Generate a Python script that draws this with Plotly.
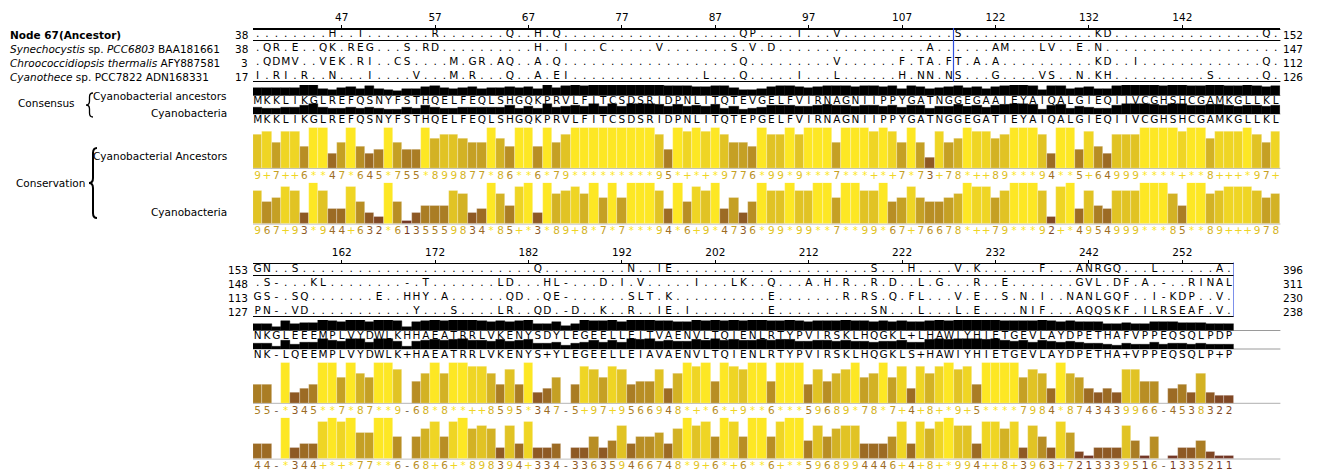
import plotly.graph_objects as go

# ---------------- data ----------------
SEQ_LABELS = ["<b>Node 67(Ancestor)</b>",
              "<i>Synechocystis</i> sp. <i>PCC6803</i> BAA181661",
              "<i>Chroococcidiopsis thermalis</i> AFY887581",
              "<i>Cyanothece</i> sp. PCC7822 ADN168331"]

B1_START = [38, 38, 3, 17]
B1_END = [152, 147, 112, 126]
B2_START = [153, 148, 113, 127]
B2_END = [396, 311, 230, 238]

B1_RULER_TEXT = ["47", "57", "67", "77", "87", "97", "107", "122", "132", "142"]
B1_RULER_COL = [9, 19, 29, 39, 49, 59, 69, 79, 89, 99]
B2_RULER_TEXT = ["162", "172", "182", "192", "202", "212", "222", "232", "242", "252"]
B2_RULER_COL = [9, 19, 29, 39, 49, 59, 69, 79, 89, 99]

# sequences, written in groups of ten columns
B1_SEQS = [
    "........H. .T.......R .......Q.. H.Q....... .......... ..QP....I. ..V....... .....S.... .......... KD........ ........Q.",
    ".QR.E..QK. REG...S.RD .......... H..I...C.. ...V...... .S.V.D.... .......... ..A......A M...LV..E. N......... ..........",
    ".QDMV..VEK .RI..CS... .M.GR.AQ.. A.Q....... .......... ..Q....... ..V......F .TA.FT.A.A .......... KD..I..... ........Q.",
    "I.RI.R..N. ..I....V.. .M.R...Q.. A.EI...... ........L. ..Q.....I. ..L......H .NN.NS...G ....VS..N. KH........ ..S.....Q.",
]
B2_SEQS = [
    "GN..S..... .......... .......... Q......... N..IE..... .......... ......S... H....V.K.. ....F...AN RGQ...L... ...A.",
    ".S-...KL.. ......-.T. ......LD.. .HL-...D.I .V.....I.. .LK..Q...A .H.R..R.D. .L.G...R.. E.......GV L.DF.A.-.. RINAL",
    "GS-.SQ.... ...E..HHY. A......QD. .QE-...... SLT.K..... .....E.... ...R.RS.Q. FL...V.E.. S.N.I..NAN LGQF..I-KD P..V.",
    "PN-.VD.... .......Y.. .S....LR.. QD.-D..K.. R..IE.I... .....E.... ......SN.. .L...L.E.. ..NIF...AQ QSKF.ILRSE AF.V.",
]

B1_CONS_ANC = "MKKLIKGLREFQSNYFSTHQELFEQLSHGQKPRVLFITCSDSRIDPNLITQTEVGELFVIRNAGNIIPPYGATNGGEGAAIEYAIQALGIEQIIVCGHSHCGAMKGLLKL"
B1_CONS_CYA = "MKKLIKGLREFQSNYFSTHQELFEQLSHGQKPRVLFITCSDSRIDPNLITQTEPGELFVIRNAGNIIPPYGATNGGEGATIEYAIQALGIEQIIVCGHSHCGAMKGLLKL"
B2_CONS_ANC = "NKGLEEEMPLVYDWLKHHAEATRRLVKENYSDYLEGEELLEITVAENVLTQIENLRTYPVIRSKLHQGKL+LHAWIYHIETGEVLAYDPETHAFVPPEQSQLPDP"
B2_CONS_CYA = "NK-LQEEMPLVYDWLK+HAEATRRLVKENYS+YLEGEELLEIAVAENVLTQIENLRTYPVIRSKLHQGKLS+HAWIYHIETGEVLAYDPETHA+VPPEQSQLP+P"

# consensus histogram (% identity), estimated
B1_HIST_ANC = [70, 70, 70, 70, 70, 100, 100, 60, 50, 70, 80, 60, 90, 60, 50, 40, 60, 60, 80, 90,
               70, 60, 70, 80, 60, 70, 70, 80, 70, 80, 60, 100, 70, 90, 100, 90, 100, 100, 100, 100,
               100, 100, 100, 100, 90, 90, 90, 80, 80, 90, 90, 70, 50, 50, 60, 80, 90, 90, 80, 70,
               80, 90, 90, 90, 80, 90, 90, 80, 90, 60, 90, 80, 60, 70, 80, 90, 70, 80, 60, 80,
               90, 100, 100, 90, 50, 90, 90, 60, 70, 80, 60, 60, 90, 100, 100, 100, 100, 90, 100, 100,
               90, 90, 100, 100, 90, 90, 100, 90, 80, 90]
B1_HIST_CYA = [60, 50, 55, 60, 60, 80, 100, 60, 50, 50, 60, 50, 60, 50, 40, 40, 60, 50, 80, 60,
               50, 50, 60, 60, 60, 60, 60, 80, 50, 70, 50, 100, 60, 70, 80, 70, 100, 70, 100, 70,
               100, 100, 100, 90, 70, 90, 70, 80, 70, 90, 50, 70, 40, 50, 60, 80, 80, 80, 70, 70,
               80, 90, 80, 80, 70, 80, 80, 70, 80, 60, 80, 80, 50, 70, 70, 90, 70, 80, 60, 80,
               90, 100, 100, 90, 40, 80, 90, 50, 70, 60, 50, 50, 80, 100, 100, 100, 90, 80, 100, 100,
               80, 80, 90, 90, 80, 70, 80, 80, 70, 80]
B2_HIST_ANC = [60, 60, 30, 90, 60, 70, 70, 100, 90, 80, 100, 100, 80, 100, 100, 90, 30, 80, 90, 100,
               90, 100, 100, 100, 90, 80, 90, 80, 90, 100, 60, 60, 80, 40, 60, 100, 90, 90, 100, 80,
               100, 100, 100, 90, 90, 80, 80, 100, 90, 100, 90, 100, 90, 100, 100, 90, 90, 100, 90, 80,
               90, 90, 90, 100, 90, 90, 80, 90, 80, 90, 80, 80, 90, 100, 90, 100, 100, 100, 100, 100,
               90, 90, 90, 90, 100, 90, 80, 90, 80, 80, 80, 60, 60, 70, 60, 60, 80, 80, 80, 70,
               70, 70, 60, 60, 60]
B2_HIST_CYA = [50, 50, 20, 80, 40, 60, 60, 100, 80, 70, 100, 100, 60, 100, 100, 70, 20, 70, 80, 90,
               80, 90, 100, 80, 80, 70, 90, 70, 80, 90, 50, 50, 60, 30, 50, 60, 80, 60, 80, 60,
               100, 90, 100, 70, 80, 70, 70, 90, 80, 100, 80, 90, 80, 80, 90, 80, 90, 90, 70, 70,
               80, 80, 70, 80, 70, 70, 60, 70, 70, 80, 60, 60, 90, 100, 90, 100, 100, 100, 90, 100,
               80, 70, 80, 60, 80, 70, 60, 70, 60, 50, 50, 40, 30, 50, 40, 40, 60, 40, 50, 50,
               40, 50, 40, 40, 40]

# conservation scores (Jalview AMAS): digits 0-9, '+' = 10, '*' = 11, '-' = gap
B1_CONSV_ANC = "9+7++6**47*645*755*899877*86**6*79*********95*+*+*9776*99*9***7***+*+7*73+78*++89***94**5+64999****+**8+++*97+"
B1_CONSV_CYA = "967+93*944+632*613555983 4*85+*3*89+8*7*7***94*6+9*4736*99*99**7**99*67+7667 8*++79***92+*4954999***85**89+++978"
B2_CONSV_ANC = "55-*345**7*87**9-68*8**++8595*347-5+97+9566948*+*6*+9**6***59689*78*7+4+8+*9+5****7984*8743439966-4538322"
B2_CONSV_CYA = "44-*344+*+*77**6-68+6+*898394+334-336359466748*9+6*+6**6+**596899444 6+4+8+*994++8+3963+7213339516-1335211"

# ---------------- geometry (pixels) ----------------
W, H = 1317, 471
X0, CW = 253.0, 9.34
DY2 = 235.0
FONT = "DejaVu Sans"
FS = 10.5


def fx(px):
    return px / W


def fy(py):
    return 1 - py / H


def clean(s):
    return s.replace(" ", "")


def score(ch):
    if ch == "*":
        return 11
    if ch == "+":
        return 10
    if ch == "-":
        return 0
    return int(ch)


def cons_color(ch):
    if ch == "-":
        return "rgb(110,90,70)"
    v = score(ch) / 11.0
    r = 0.3 + 0.7 * v
    g = 0.9 * v
    b = 0.0
    r, g, b = [c * 0.85 + 0.15 * 0.95 for c in (r, g, b)]
    return "rgb(%d,%d,%d)" % (r * 255, g * 255, b * 255)


fig = go.Figure()

blocks = [
    dict(ax="x", n=110, dy=0.0, seqs=B1_SEQS, ca=B1_CONS_ANC, cc=B1_CONS_CYA,
         ha=B1_HIST_ANC, hc=B1_HIST_CYA, sa=B1_CONSV_ANC, sc=B1_CONSV_CYA,
         start=B1_START, end=B1_END, rt=B1_RULER_TEXT, rc=B1_RULER_COL, yax=(3, 4, 5, 6)),
    dict(ax="x2", n=105, dy=DY2, seqs=B2_SEQS, ca=B2_CONS_ANC, cc=B2_CONS_CYA,
         ha=B2_HIST_ANC, hc=B2_HIST_CYA, sa=B2_CONSV_ANC, sc=B2_CONSV_CYA,
         start=B2_START, end=B2_END, rt=B2_RULER_TEXT, rc=B2_RULER_COL, yax=(7, 8, 9, 10)),
]

ROW_Y = [34.5, 48.5, 62.5, 76.5]
shapes = []
annotations = []
layout_axes = {}

for bi, b in enumerate(blocks):
    n, dy, ax = b["n"], b["dy"], b["ax"]
    xs = [c + 0.5 for c in range(n)]
    right_px = X0 + n * CW

    # x axis for this block = ruler line + tick marks
    axname = "xaxis" if ax == "x" else "xaxis2"
    layout_axes[axname] = dict(
        domain=[fx(X0), fx(right_px)], range=[0, n], anchor="free",
        position=fy(27.5 + dy), side="top", showline=True, linecolor="black",
        linewidth=1, ticks="outside", ticklen=3, tickcolor="black", tickwidth=1,
        tickvals=[c + 0.5 for c in b["rc"]], showticklabels=False,
        showgrid=False, zeroline=False, fixedrange=True)
    fig.add_trace(go.Scatter(x=[c + 0.5 for c in b["rc"]], y=[18.0 + dy] * len(b["rc"]),
                             xaxis=ax, yaxis="y", mode="text", text=b["rt"],
                             textfont=dict(family=FONT, size=FS, color="black"),
                             hoverinfo="skip", showlegend=False, cliponaxis=False))

    # sequence rows
    for ri, s in enumerate(b["seqs"]):
        s = clean(s)
        assert len(s) == n, (bi, ri, len(s))
        fig.add_trace(go.Scatter(x=xs, y=[ROW_Y[ri] + dy] * n, xaxis=ax, yaxis="y",
                                 mode="text", text=list(s),
                                 textfont=dict(family=FONT, size=FS, color="black"),
                                 hoverinfo="skip", showlegend=False, cliponaxis=False))
        annotations.append(dict(x=fx(X0 - 3), y=ROW_Y[ri] + dy, xref="paper", yref="y",
                                text=str(b["start"][ri]), showarrow=False, xanchor="right",
                                yanchor="middle", font=dict(family=FONT, size=FS, color="black")))
        annotations.append(dict(x=fx(X0 + 110 * CW + 1), y=ROW_Y[ri] + dy, xref="paper", yref="y",
                                text=str(b["end"][ri]), showarrow=False, xanchor="left",
                                yanchor="middle", font=dict(family=FONT, size=FS, color="black")))

    # consensus letters
    for txt, yy in ((b["ca"], 101.0), (b["cc"], 120.0)):
        assert len(txt) == n
        fig.add_trace(go.Scatter(x=xs, y=[yy + dy] * n, xaxis=ax, yaxis="y",
                                 mode="text", text=list(txt),
                                 textfont=dict(family=FONT, size=FS, color="black"),
                                 hoverinfo="skip", showlegend=False, cliponaxis=False))

    ya_h1, ya_h2, ya_c1, ya_c2 = b["yax"]
    # consensus histograms
    for vals, ya, top, bot in ((b["ha"], ya_h1, 85.0, 95.5), (b["hc"], ya_h2, 103.5, 114.0)):
        assert len(vals) == n
        layout_axes["yaxis%d" % ya] = dict(domain=[fy(bot + dy), fy(top + dy)], range=[0, 100],
                                           visible=False, anchor=ax, fixedrange=True)
        fig.add_trace(go.Bar(x=xs, y=vals, width=1, xaxis=ax, yaxis="y%d" % ya,
                             marker=dict(color="black", line=dict(width=0.4, color="black")),
                             hoverinfo="skip", showlegend=False))
        shapes.append(dict(type="line", xref="paper", yref="paper", x0=fx(X0), x1=fx(X0 + 110 * CW),
                           y0=fy(bot + dy), y1=fy(bot + dy), line=dict(color="#9a9a9a", width=1),
                           layer="below"))

    # conservation rows
    for sc, ya, top, bot, ly in ((b["sa"], ya_c1, 127.5, 168.3, 176.0),
                                 (b["sc"], ya_c2, 182.7, 224.0, 231.0)):
        sc = clean(sc)
        assert len(sc) == n, (bi, len(sc))
        cols = [cons_color(ch) for ch in sc]
        layout_axes["yaxis%d" % ya] = dict(domain=[fy(bot + dy), fy(top + dy)], range=[0, 11],
                                           visible=False, anchor=ax, fixedrange=True)
        fig.add_trace(go.Bar(x=xs, y=[score(ch) for ch in sc], width=1, xaxis=ax, yaxis="y%d" % ya,
                             marker=dict(color=cols, line=dict(width=0.6, color="rgba(255,255,255,0.45)")),
                             hoverinfo="skip", showlegend=False))
        fig.add_trace(go.Scatter(x=xs, y=[ly + dy] * n, xaxis=ax, yaxis="y",
                                 mode="text", text=list(sc),
                                 textfont=dict(family=FONT, size=FS, color=cols),
                                 hoverinfo="skip", showlegend=False, cliponaxis=False))
        shapes.append(dict(type="line", xref="paper", yref="paper", x0=fx(X0), x1=fx(X0 + 110 * CW),
                           y0=fy(bot + dy), y1=fy(bot + dy), line=dict(color="#b0b0b0", width=1),
                           layer="below"))

    # group box lines
    for yy in (29.5, 40.5, 81.5):
        if bi == 1 and yy == 29.5:
            continue
        shapes.append(dict(type="line", xref="paper", yref="paper", x0=fx(X0), x1=fx(right_px),
                           y0=fy(yy + dy), y1=fy(yy + dy), line=dict(color="black", width=1)))

# blue hidden-column markers
shapes.append(dict(type="line", xref="x", yref="paper", x0=75, x1=75, y0=fy(28.0), y1=fy(81.5),
                   line=dict(color="#3050e0", width=1.2)))
shapes.append(dict(type="line", xref="x2", yref="paper", x0=105, x1=105, y0=fy(27.5 + DY2), y1=fy(81.5 + DY2),
                   line=dict(color="#3050e0", width=1.2)))


def brace_path(xtip, xarm, y0, y1, r):
    ym = (y0 + y1) / 2.0
    xm = (xtip + xarm) / 2.0
    pts = [
        "M %f,%f" % (fx(xarm), fy(y0)),
        "Q %f,%f %f,%f" % (fx(xm), fy(y0), fx(xm), fy(y0 + r)),
        "L %f,%f" % (fx(xm), fy(ym - r)),
        "Q %f,%f %f,%f" % (fx(xm), fy(ym), fx(xtip), fy(ym)),
        "Q %f,%f %f,%f" % (fx(xm), fy(ym), fx(xm), fy(ym + r)),
        "L %f,%f" % (fx(xm), fy(y1 - r)),
        "Q %f,%f %f,%f" % (fx(xm), fy(y1), fx(xarm), fy(y1)),
    ]
    return " ".join(pts)


shapes.append(dict(type="path", xref="paper", yref="paper", path=brace_path(86, 93, 93, 117, 4),
                   line=dict(color="black", width=1.3)))
shapes.append(dict(type="path", xref="paper", yref="paper", path=brace_path(89, 97, 148, 218, 5),
                   line=dict(color="black", width=2)))

# left labels
for ri, lab in enumerate(SEQ_LABELS):
    annotations.append(dict(x=fx(8), y=ROW_Y[ri], xref="paper", yref="y", text=lab,
                            showarrow=False, xanchor="left", yanchor="middle",
                            font=dict(family=FONT, size=FS, color="black")))

side_labels = [
    ("Consensus", 16, 103, "left"),
    ("Cyanobacterial ancestors", 229, 96, "right"),
    ("Cyanobacteria", 229, 113, "right"),
    ("Conservation", 14, 183, "left"),
    ("Cyanobacterial Ancestors", 229, 156, "right"),
    ("Cyanobacteria", 229, 212, "right"),
]
for txt, xx, yy, anc in side_labels:
    annotations.append(dict(x=fx(xx), y=yy, xref="paper", yref="y", text=txt, showarrow=False,
                            xanchor=anc, yanchor="middle",
                            font=dict(family=FONT, size=FS, color="black")))

fig.update_layout(
    width=W, height=H, margin=dict(l=0, r=0, t=0, b=0),
    paper_bgcolor="white", plot_bgcolor="rgba(0,0,0,0)",
    font=dict(family=FONT, size=FS, color="black"),
    showlegend=False, barmode="overlay", bargap=0,
    yaxis=dict(domain=[0, 1], range=[H, 0], visible=False, anchor="x", fixedrange=True),
    shapes=shapes, annotations=annotations,
    **layout_axes,
)

fig.write_html("out.html", config={"displayModeBar": False},
               post_script="document.body.style.margin='0';document.body.style.overflow='hidden';")
